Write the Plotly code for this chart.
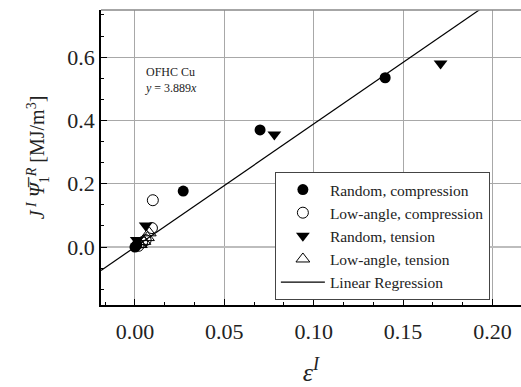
import plotly.graph_objects as go

# Data
rc_x = [0.000, 0.001, 0.027, 0.070, 0.140]
rc_y = [0.000, 0.006, 0.177, 0.370, 0.535]

lc_x = [0.002, 0.004, 0.006, 0.0095, 0.010]
lc_y = [0.004, 0.015, 0.022, 0.060, 0.148]

rt_x = [0.001, 0.006, 0.078, 0.171]
rt_y = [0.022, 0.068, 0.356, 0.580]

lt_x = [0.003, 0.005, 0.007, 0.008]
lt_y = [0.008, 0.018, 0.030, 0.045]

slope = 3.889
line_x = [-0.019, 0.216]
line_y = [slope * v for v in line_x]

FONT = "Liberation Serif, Times New Roman, DejaVu Serif, serif"

fig = go.Figure()
fig.add_trace(go.Scatter(x=rc_x, y=rc_y, mode="markers", name="Random, compression",
                         marker=dict(symbol="circle", size=11, color="black")))
fig.add_trace(go.Scatter(x=lc_x, y=lc_y, mode="markers", name="Low-angle, compression",
                         marker=dict(symbol="circle-open", size=11, color="black", line=dict(width=1))))
fig.add_trace(go.Scatter(x=rt_x, y=rt_y, mode="markers", name="Random, tension",
                         marker=dict(symbol="triangle-down", size=12, color="black")))
fig.add_trace(go.Scatter(x=lt_x, y=lt_y, mode="markers", name="Low-angle, tension",
                         marker=dict(symbol="triangle-up-open", size=12, color="black", line=dict(width=1))))
fig.add_trace(go.Scatter(x=line_x, y=line_y, mode="lines", name="Linear Regression",
                         line=dict(color="black", width=1.2)))

fig.update_layout(
    width=521, height=387,
    margin=dict(l=101, r=0, t=10, b=82),
    paper_bgcolor="white", plot_bgcolor="white",
    font=dict(family=FONT, color="#222"),
    legend=dict(x=0.414, y=0.451, xanchor="left", yanchor="top",
                bgcolor="white", bordercolor="#444", borderwidth=1,
                font=dict(family=FONT, size=15.5, color="#222"),
                itemwidth=44, tracegroupgap=0),
    showlegend=True,
)

fig.update_xaxes(
    range=[-0.019, 0.216], dtick=0.05, tick0=0, tickformat=".2f",
    showline=True, linecolor="black", linewidth=1.5, mirror=False,
    ticks="inside", ticklen=6, tickcolor="black",
    minor=dict(dtick=0.05/3, ticks="inside", ticklen=3, tickcolor="black", showgrid=False),
    showgrid=True, gridcolor="#a8a8a8", gridwidth=1, zeroline=False,
    tickfont=dict(family=FONT, size=22, color="#222"),
    ticklabelstandoff=6,
    automargin=False,
    title=dict(text="<i>ε</i><sup><i>I</i></sup>", font=dict(family=FONT, size=26, color="#222"), standoff=23),
)
fig.update_yaxes(
    range=[-0.183, 0.749], dtick=0.2, tick0=0, tickformat=".1f",
    showline=True, linecolor="black", linewidth=1.5, mirror=False,
    ticks="inside", ticklen=6, tickcolor="black",
    minor=dict(dtick=0.2/3, ticks="inside", ticklen=3, tickcolor="black", showgrid=False),
    showgrid=True, gridcolor="#a8a8a8", gridwidth=1,
    zeroline=True, zerolinecolor="#bdbdbd", zerolinewidth=2,
    tickfont=dict(family=FONT, size=22, color="#222"),
    automargin=False,
    title=dict(text="<i>J</i><sup> <i>I</i></sup> <i>Ψ\u0305</i><sub>1</sub><sup><i>R</i></sup> [MJ/m<sup>3</sup>]",
               font=dict(family=FONT, size=20, color="#222"), standoff=17),
)

fig.add_shape(type="line", xref="paper", yref="paper", x0=0, x1=1, y0=1, y1=1,
              line=dict(color="#888", width=1.5))

fig.add_annotation(x=0.0045, y=0.527, xref="x", yref="y", xanchor="left", yanchor="middle",
                   text="OFHC Cu<br><i>y</i> = 3.889<i>x</i>", showarrow=False, align="left",
                   font=dict(family=FONT, size=12, color="#222"))

fig.write_html("out.html", config={"displayModeBar": False},
               post_script="document.body.style.margin='0';")
